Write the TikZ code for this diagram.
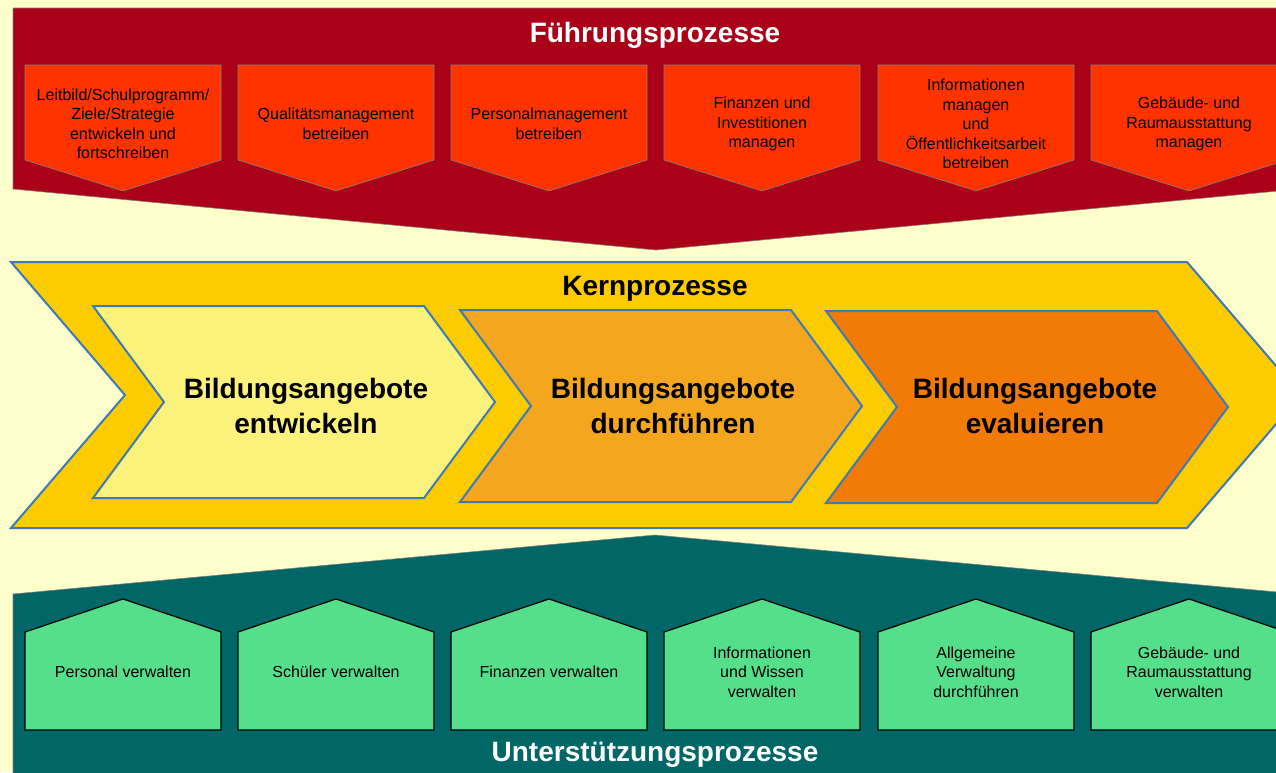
\documentclass[tikz,border=0pt]{standalone}
\usepackage{fontspec}
\setmainfont{Liberation Sans}
\definecolor{grund}{HTML}{FFFFCC}
\definecolor{fuehrrot}{HTML}{AA0018}
\definecolor{fuehrorange}{HTML}{FF3300}
\definecolor{kerngelb}{HTML}{FCCC00}
\definecolor{kernrand}{HTML}{3D7AB8}
\definecolor{kernhell}{HTML}{FAF27A}
\definecolor{kernmittel}{HTML}{F4A71E}
\definecolor{kerndunkel}{HTML}{F27A07}
\definecolor{untertuerkis}{HTML}{006666}
\definecolor{untergruen}{HTML}{55DF8B}
\tikzset{
  titel/.style={font=\fontsize{28}{32}\selectfont\bfseries},
  klein/.style={font=\fontsize{16}{19.5}\selectfont, align=center},
  gross/.style={font=\fontsize{28}{35}\selectfont\bfseries, align=center},
  band/.style={draw=gray, line width=0.6pt},
  fbox/.style={draw=gray, fill=fuehrorange, line width=0.6pt},
  ubox/.style={draw=black, fill=untergruen, line width=1.2pt, line join=miter},
  kern/.style={draw=kernrand, line width=2pt, line join=miter}
}
\begin{document}
\begin{tikzpicture}[x=1pt,y=-1pt]
  \useasboundingbox (0,0) rectangle (1276,772);
  \fill[grund] (0,0) rectangle (1276,772);
  \draw[band, fill=fuehrrot] (13,8) -- (1299,8) -- (1299,189) -- (656,250) -- (13,189) -- cycle;
  \foreach \x in {25,238,451,664,878,1091}
    \draw[fbox] (\x,65) -- ++(196,0) -- ++(0,95) -- ++(-98,31) -- ++(-98,-31) -- cycle;
  \node[titel, text=white] (fuehrung) at (655,35) {Führungsprozesse};
  \node[klein] (f1) at (123,124) {Leitbild/Schulprogramm/\\Ziele/Strategie\\entwickeln und\\fortschreiben};
  \node[klein] (f2) at (336,124) {Qualitätsmanagement\\betreiben};
  \node[klein] (f3) at (549,124) {Personalmanagement\\betreiben};
  \node[klein] (f4) at (762,124) {Finanzen und\\Investitionen\\managen};
  \node[klein] (f5) at (976,124) {Informationen\\managen\\und\\Öffentlichkeitsarbeit\\betreiben};
  \node[klein] (f6) at (1189,124) {Gebäude- und\\Raumausstattung\\managen};
  \draw[kern, fill=kerngelb] (11,262) -- (1187,262) -- (1301,395) -- (1187,528) -- (11,528) -- (125,395) -- cycle;
  \foreach \x/\y/\farbe in {93/402/kernhell, 460/406/kernmittel, 826/407/kerndunkel}
    \draw[kern, fill=\farbe] (\x,\y-96) -- ++(331,0) -- ++(71,96) -- ++(-71,96) -- ++(-331,0) -- ++(71,-96) -- cycle;
  \node[titel] (kern) at (655,289) {Kernprozesse};
  \node[gross] (k1) at (306,406) {Bildungsangebote\\entwickeln};
  \node[gross] (k2) at (673,406) {Bildungsangebote\\durchführen};
  \node[gross] (k3) at (1035,406) {Bildungsangebote\\evaluieren};
  \draw[band, fill=untertuerkis] (13,594) -- (655,535) -- (1299,594) -- (1299,790) -- (13,790) -- cycle;
  \foreach \x in {25,238,451,664,878,1091}
    \draw[ubox] (\x,632) -- ++(98,-33) -- ++(98,33) -- ++(0,98) -- ++(-196,0) -- cycle;
  \node[klein] (u1) at (123,672) {Personal verwalten};
  \node[klein] (u2) at (336,672) {Schüler verwalten};
  \node[klein] (u3) at (549,672) {Finanzen verwalten};
  \node[klein] (u4) at (762,672) {Informationen\\und Wissen\\verwalten};
  \node[klein] (u5) at (976,672) {Allgemeine\\Verwaltung\\durchführen};
  \node[klein] (u6) at (1189,672) {Gebäude- und\\Raumausstattung\\verwalten};
  \node[titel, text=white] (unterstuetzung) at (655,755) {Unterstützungsprozesse};
\end{tikzpicture}
\end{document}
